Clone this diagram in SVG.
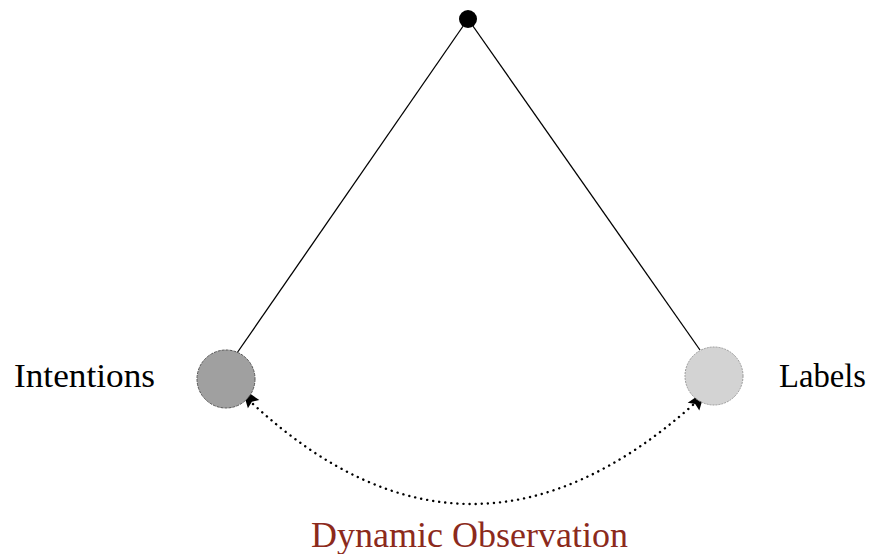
<svg xmlns="http://www.w3.org/2000/svg" width="870" height="554" viewBox="0 0 870 554">
<style>
.lbl{font-family:"Liberation Serif","Times New Roman",serif;font-size:33px;fill:#000}
.edge{stroke:#000;stroke-width:1.3;fill:none}
.dot{stroke:#000;stroke-width:2.4;fill:none;stroke-dasharray:0.1 6;stroke-linecap:round}
.head{fill:#000}
</style>
<rect width="870" height="554" fill="#fff"/>
<g id="connectors">
<line class="edge" x1="468" y1="19" x2="237" y2="353"/>
<line class="edge" x1="468" y1="19" x2="700" y2="350"/>
<path class="dot" d="M 253 404 Q 470 604 694 404"/>
<polygon class="head" points="242,388 259.3,400.1 251.9,401.8 247.9,408.3"/>
<polygon class="head" points="705,391 699.3,410.5 695.2,404.1 687.7,402.7"/>
</g>
<g id="top">
<circle cx="468" cy="19" r="9" fill="#000"/>
</g>
<g id="intentions">
<circle cx="226" cy="379" r="29" fill="#a0a0a0" stroke="#555" stroke-width="1" stroke-dasharray="3 1"/>
<text class="lbl" x="14" y="387" textLength="141" lengthAdjust="spacingAndGlyphs">Intentions</text>
</g>
<g id="labels">
<circle cx="714" cy="376" r="29" fill="#d3d3d3" stroke="#999" stroke-width="1" stroke-dasharray="2 1"/>
<text class="lbl" x="779" y="387" textLength="87" lengthAdjust="spacingAndGlyphs">Labels</text>
</g>
<g id="caption">
<text x="311" y="547" font-family="Liberation Serif,'Times New Roman',serif" font-size="35" fill="#8c2a1c" textLength="317" lengthAdjust="spacingAndGlyphs">Dynamic Observation</text>
</g>
</svg>
